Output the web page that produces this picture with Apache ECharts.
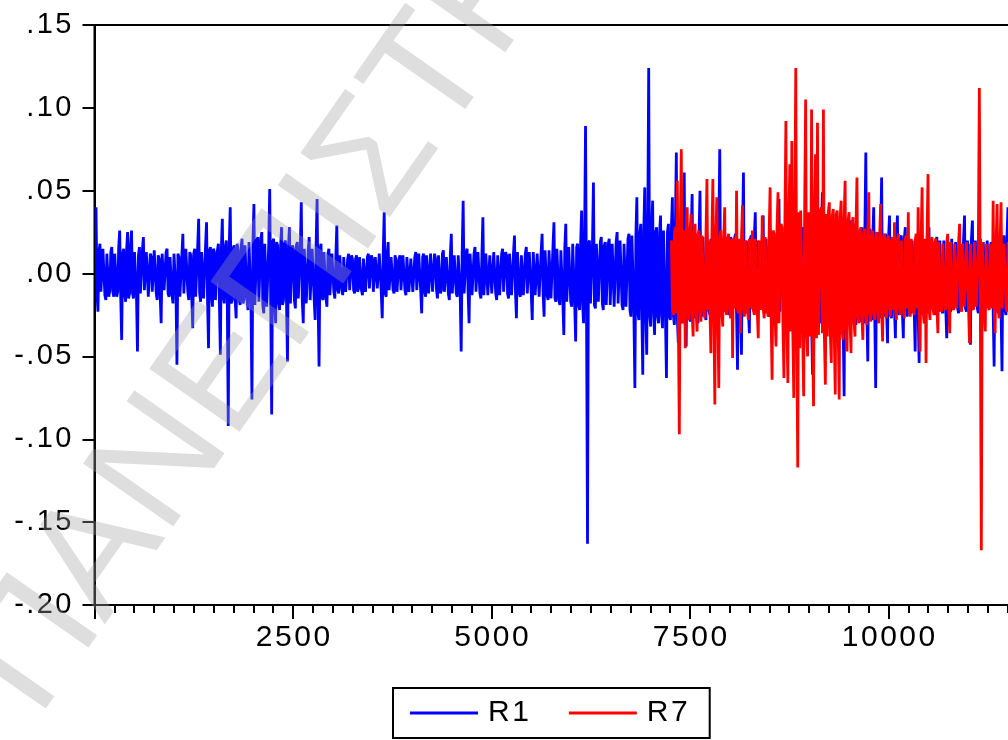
<!DOCTYPE html>
<html>
<head>
<meta charset="utf-8">
<script src="https://cdn.jsdelivr.net/npm/echarts@6/dist/echarts.min.js"></script>
<style>
html,body{margin:0;padding:0;background:#fff;}
#chart{width:1008px;height:740px;}
</style>
</head>
<body>
<div id="chart"></div>
<script>
// ---- data ----
var seriesNames = ['R1', 'R7'];
var xTickLabels = [2500, 5000, 7500, 10000];
var yTickLabels = ['.15', '.10', '.05', '.00', '-.05', '-.10', '-.15', '-.20'];

// observation number = start + index * obsStep
var obsStep = 12.43;
var r1Start = 19;
var r1Values = [
.040,-.012,-.023,.013,.018,-.011,-.012,.015,.014,-.013,-.016,.012,.011,-.014,-.010,.013,.016,-.011,-.014,.012,
.013,-.014,-.011,.016,.026,-.013,-.040,.012,.015,-.012,-.017,.014,.025,-.015,-.012,.017,.026,-.012,-.015,.013,
.012,-.013,-.047,.011,.016,-.012,-.013,.014,.022,-.010,-.011,.013,.014,-.014,-.015,.012,.010,-.011,-.012,.014,
.013,-.012,-.016,.011,.009,-.013,-.030,.012,.012,-.010,-.011,.013,.015,-.012,-.014,.010,.011,-.013,-.018,.012,
.013,-.011,-.055,.012,.010,-.014,-.013,.011,.024,-.012,-.012,.015,.014,-.011,-.016,.013,.011,-.014,-.033,.012,
.015,-.014,-.013,.016,.033,-.012,-.017,.013,.012,-.015,-.014,.017,.031,-.016,-.045,.014,.016,-.013,-.020,.015,
.013,-.016,-.015,.014,.018,-.017,-.049,.015,.033,-.014,-.018,.016,.020,-.015,-.092,.017,.040,-.018,-.016,.015,
.017,-.016,-.027,.018,.014,-.015,-.019,.016,.021,-.018,-.015,.017,.016,-.016,-.022,.019,.019,-.017,-.076,.018,
.042,-.019,-.018,.020,.022,-.017,-.016,.021,.025,-.019,-.024,.018,.018,-.020,-.020,.017,.051,-.018,-.085,.019,
.021,-.017,-.030,.019,.017,-.018,-.022,.016,.028,-.019,-.016,.018,.020,-.017,-.053,.016,.028,-.018,-.018,.017,
.015,-.016,-.021,.017,.019,-.015,-.014,.016,.043,-.017,-.030,.015,.016,-.018,-.019,.014,.022,-.016,-.017,.015,
.014,-.015,-.028,.016,.045,-.017,-.056,.015,.018,-.014,-.016,.013,.013,-.015,-.020,.012,.015,-.013,-.014,.012,
.011,-.011,-.015,.010,.029,-.010,-.012,.011,.010,-.009,-.013,.010,.009,-.011,-.011,.009,.012,-.010,-.010,.011,
.008,-.010,-.012,.009,.011,-.011,-.009,.010,.010,-.010,-.013,.009,.009,-.011,-.011,.010,.012,-.009,-.010,.011,
.009,-.011,-.012,.010,.011,-.009,-.010,.012,.013,-.011,-.027,.012,.037,-.012,-.014,.011,.019,-.010,-.011,.010,
.010,-.010,-.012,.011,.008,-.011,-.010,.009,.011,-.010,-.009,.011,.012,-.010,-.013,.010,.010,-.011,-.011,.009,
.009,-.011,-.012,.010,.013,-.010,-.010,.012,.011,-.011,-.024,.010,.012,-.011,-.014,.011,.010,-.012,-.011,.012,
.013,-.011,-.012,.012,.009,-.010,-.015,.011,.011,-.012,-.010,.012,.014,-.011,-.012,.010,.010,-.012,-.016,.011,
.024,-.012,-.011,.011,.012,-.012,-.014,.011,.010,-.013,-.047,.012,.044,-.012,-.013,.013,.015,-.011,-.030,.012,
.011,-.013,-.012,.012,.016,-.011,-.010,.013,.013,-.012,-.015,.011,.034,-.013,-.012,.012,.011,-.013,-.014,.011,
.012,-.012,-.011,.013,.014,-.012,-.016,.011,.010,-.013,-.013,.012,.015,-.011,-.012,.013,.011,-.012,-.015,.012,
.013,-.013,-.012,.012,.023,-.011,-.027,.013,.012,-.012,-.014,.011,.010,-.013,-.013,.012,.016,-.012,-.011,.013,
.012,-.012,-.028,.013,.014,-.013,-.013,.012,.011,-.014,-.015,.013,.024,-.012,-.026,.014,.013,-.013,-.016,.014,
.015,-.015,-.014,.016,.031,-.015,-.017,.015,.016,-.016,-.019,.014,.014,-.016,-.037,.016,.030,-.017,-.018,.016,
.017,-.017,-.020,.018,.019,-.018,-.041,.016,.018,-.019,-.022,.017,.038,-.018,-.030,.019,.089,-.020,-.163,.018,
.020,-.018,-.019,.017,.055,-.019,-.021,.018,.018,-.017,-.017,.019,.022,-.018,-.022,.017,.019,-.019,-.020,.018,
.021,-.019,-.018,.018,.017,-.020,-.021,.019,.025,-.018,-.019,.020,.020,-.019,-.022,.018,.018,-.020,-.020,.021,
.024,-.022,-.026,.023,.022,-.024,-.069,.022,.046,-.023,-.028,.024,.030,-.022,-.061,.025,.052,-.024,-.049,.026,
.124,-.025,-.032,.026,.044,-.024,-.037,.025,.028,-.026,-.030,.024,.035,-.025,-.033,.026,.026,-.027,-.063,.025,
.030,-.026,-.028,.027,.046,-.025,-.031,.026,.073,-.027,-.042,.025,.027,-.026,-.030,.027,.061,-.025,-.044,.024,
.025,-.023,-.029,.022,.048,-.024,-.027,.023,.024,-.022,-.030,.024,.050,-.023,-.026,.022,.022,-.024,-.028,.023,
.024,-.022,-.025,.021,.020,-.023,-.027,.022,.023,-.021,-.022,.023,.075,-.022,-.026,.021,.021,-.023,-.024,.022,
.022,-.021,-.025,.022,.020,-.022,-.023,.021,.024,-.023,-.058,.020,.019,-.022,-.049,.021,.061,-.022,-.024,.020,
.021,-.022,-.036,.021,.023,-.020,-.022,.022,.037,-.021,-.025,.020,.020,-.022,-.023,.021,.035,-.022,-.024,.021,
.022,-.023,-.026,.022,.024,-.021,-.021,.023,.020,-.022,-.025,.021,.045,-.023,-.024,.022,.023,-.024,-.027,.024,
.026,-.025,-.028,.026,.024,-.027,-.030,.025,.027,-.026,-.026,.027,.025,-.028,-.029,.026,.028,-.027,-.027,.028,
.030,-.027,-.028,.027,.026,-.028,-.061,.026,.029,-.027,-.031,.028,.027,-.028,-.030,.027,.049,-.029,-.032,.028,
.031,-.028,-.029,.027,.033,-.028,-.030,.029,.028,-.027,-.033,.028,.030,-.029,-.031,.027,.027,-.028,-.074,.028,
.029,-.027,-.030,.028,.032,-.027,-.028,.026,.030,-.028,-.031,.027,.026,-.027,-.029,.025,.028,-.026,-.030,.024,
.073,-.024,-.053,.023,.027,-.024,-.028,.022,.040,-.023,-.069,.022,.025,-.023,-.027,.021,.058,-.022,-.026,.022,
.024,-.022,-.042,.021,.035,-.022,-.027,.022,.022,-.021,-.039,.022,.035,-.022,-.025,.021,.023,-.022,-.039,.021,
.028,-.021,-.026,.021,.022,-.022,-.024,.020,.021,-.021,-.047,.020,.020,-.022,-.054,.021,.023,-.021,-.025,.020,
.021,-.021,-.024,.020,.028,-.021,-.022,.019,.020,-.022,-.025,.020,.022,-.021,-.023,.020,.019,-.022,-.024,.020,
.021,-.021,-.039,.020,.020,-.021,-.023,.021,.022,-.020,-.021,.019,.019,-.021,-.024,.020,.020,-.021,-.022,.020,
.035,-.021,-.023,.020,.021,-.022,-.043,.021,.032,-.021,-.022,.020,.020,-.021,-.024,.019,.021,-.021,-.023,.019,
.019,-.021,-.022,.020,.019,-.020,-.021,.019,.020,-.021,-.056,.020,.022,-.021,-.024,.020,.021,-.022,-.059,.021,
.023,-.022,-.025,.021,.040,-.022,-.024,.021,.022,-.021,-.026,.020
];

var r7Start = 7266;
var r7Values = [
.020,-.022,-.025,.024,.028,-.024,.056,-.026,-.097,.025,.075,-.027,-.030,.026,-.045,.025,.040,-.026,-.028,.027,
.036,-.024,-.038,.025,.030,-.023,-.035,.024,.026,-.022,-.029,.023,.024,-.022,-.027,.023,.057,-.022,.020,-.021,
-.048,.022,.057,-.023,-.079,.022,.046,-.022,-.069,.021,.026,-.022,-.032,.021,.040,-.022,-.025,.021,.024,-.022,
-.027,.021,-.051,.020,.022,-.021,.050,-.022,-.024,.021,-.036,.022,.041,-.021,-.026,.020,.021,-.022,-.028,.021,
.020,-.021,.026,-.022,-.025,.021,.022,-.023,-.039,.020,.019,-.022,.035,-.021,-.027,.022,.023,-.022,-.026,.024,
.052,-.025,-.064,.026,.024,-.027,-.044,.028,.049,-.030,-.030,.030,.028,-.031,-.063,.032,.092,-.033,-.066,.034,
.066,-.035,.080,-.036,-.075,.036,.124,-.038,-.117,.037,-.045,.038,.038,-.037,-.074,.038,.105,-.036,-.050,.037,
.036,-.038,.099,-.036,-.080,.037,.072,-.039,.091,-.037,-.037,.038,.040,-.036,.099,-.038,-.067,.036,-.038,.037,
.043,-.036,-.054,.035,.039,-.037,-.073,.036,.038,-.035,-.076,.034,.044,-.035,-.040,.033,.056,-.034,-.047,.032,
.037,-.030,-.048,.030,.034,-.029,-.038,.027,.058,-.026,-.030,.025,.028,-.026,-.040,.024,.027,-.025,-.031,.024,
.049,-.024,-.029,.023,.026,-.024,-.028,.022,.025,-.023,-.030,.023,.042,-.022,-.041,.022,.024,-.023,-.027,.021,
.023,-.021,-.026,.020,.022,-.022,.031,-.021,-.028,.020,.024,-.021,-.025,.020,.021,-.022,-.027,.021,.023,-.021,
.037,-.021,-.026,.021,.022,-.022,-.025,.020,.024,-.021,.040,-.022,-.047,.021,.052,-.022,-.030,.021,-.054,.022,
.060,-.021,-.028,.020,.022,-.021,-.025,.019,.021,-.020,-.036,.019,.020,-.021,-.023,.018,.019,-.020,-.022,.019,
.024,-.020,-.036,.019,.018,-.020,-.022,.018,.019,-.021,-.021,.019,.030,-.020,-.023,.018,.018,-.020,-.021,.019,
.020,-.019,-.042,.018,.019,-.020,-.022,.019,.018,-.020,-.021,.019,.112,-.020,-.167,.019,.020,-.019,-.035,.018,
.019,-.020,-.022,.018,.018,-.021,.044,-.020,-.036,.019,.042,-.020,-.027,.019,.043,-.021,-.022,.018,.019,-.020,
-.023,.019,.020,-.020,-.022,.019,.021,-.020
];

// ---- build ----
function toPairs(start, vals) {
  return vals.map(function (v, i) { return [start + i * obsStep, v]; });
}
function spaced(s) { return String(s).split('').join('\u200A'); }
var FONT = 'Liberation Sans, Arial, sans-serif';

var chart = echarts.init(document.getElementById('chart'), null, {renderer: 'canvas'});
chart.setOption({
  animation: false,
  backgroundColor: '#ffffff',
  grid: {
    left: 94.5, top: 25, width: 952.8, height: 580,
    outerBoundsMode: 'none', containLabel: false,
    show: true, borderColor: '#000', borderWidth: 2, backgroundColor: 'transparent'
  },
  xAxis: {
    type: 'value', min: 0, max: 12000, interval: 2500,
    axisLine: {show: true, onZero: false, lineStyle: {color: '#000', width: 2}},
    axisTick: {show: true, length: 14, lineStyle: {color: '#000', width: 2}},
    minorTick: {show: true, splitNumber: 10, length: 8, lineStyle: {color: '#000', width: 2}},
    splitLine: {show: false},
    minorSplitLine: {show: false},
    axisLabel: {
      margin: 18, color: '#000', fontSize: 30, fontFamily: FONT,
      showMinLabel: false, showMaxLabel: false,
      formatter: function (v) {
        return xTickLabels.indexOf(v) >= 0 ? spaced(v) : '';
      }
    }
  },
  yAxis: {
    type: 'value', min: -0.2, max: 0.15, interval: 0.05,
    axisLine: {show: true, onZero: false, lineStyle: {color: '#000', width: 2}},
    axisTick: {show: true, length: 12, lineStyle: {color: '#000', width: 2}},
    splitLine: {show: false},
    axisLabel: {
      margin: 23, color: '#000', fontSize: 29, fontFamily: FONT,
      formatter: function (v) {
        var k = Math.round((0.15 - v) / 0.05);
        return spaced(yTickLabels[k] || '');
      }
    }
  },
  legend: {
    left: 393, top: 688,
    data: seriesNames,
    icon: 'rect', itemWidth: 68, itemHeight: 3, itemGap: 40,
    padding: [10, 22, 10, 17],
    borderColor: '#000', borderWidth: 2,
    textStyle: {fontSize: 30, color: '#000', fontFamily: FONT, padding: [0, 0, 0, 5]},
    formatter: function (n) { return spaced(n); }
  },
  series: [
    {
      name: seriesNames[0], type: 'line', data: toPairs(r1Start, r1Values),
      showSymbol: false, symbol: 'none', color: '#0000ff', sampling: 'none',
      lineStyle: {color: '#0000ff', width: 2.8, join: 'bevel'}, z: 2, silent: true
    },
    {
      name: seriesNames[1], type: 'line', data: toPairs(r7Start, r7Values),
      showSymbol: false, symbol: 'none', color: '#ff0000', sampling: 'none',
      lineStyle: {color: '#ff0000', width: 2.8, join: 'bevel'}, z: 3, silent: true
    }
  ],
  graphic: [{
    type: 'text', x: 2, y: 694, rotation: 55 * Math.PI / 180, z: 100, silent: true,
    style: {
      text: 'ΠΑΝΕΠΙΣΤΗΜΙΟ ΠΕΙΡΑΙΩΣ', fontSize: 160, fontFamily: FONT,
      fill: 'rgba(160,160,160,0.35)', align: 'left', verticalAlign: 'middle'
    }
  }]
});
</script>
</body>
</html>
